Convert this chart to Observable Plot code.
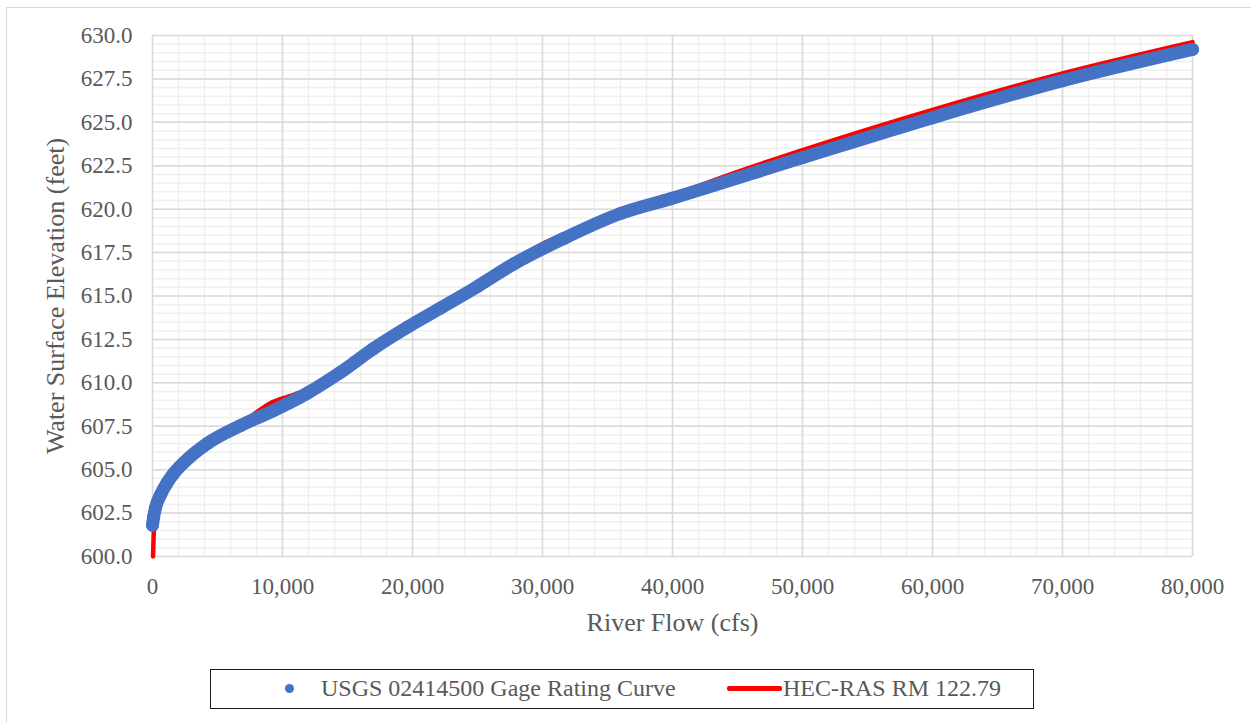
<!DOCTYPE html>
<html>
<head>
<meta charset="utf-8">
<script src="https://cdn.jsdelivr.net/npm/d3@7"></script>
<script src="https://cdn.jsdelivr.net/npm/@observablehq/plot@0.6"></script>
<style>
  html, body { margin: 0; padding: 0; background: #fff; overflow: hidden; }
  #frame { position: absolute; left: 6px; top: 7px; width: 1400px; height: 900px;
           border-left: 1.5px solid #d9d9d9; border-top: 1.5px solid #d9d9d9; }
  #chart { position: absolute; left: 0; top: 0; }
  #legend { position: absolute; left: 210px; top: 669px; width: 824px; height: 40px;
            border: 1.5px solid #1a1a1a; box-sizing: border-box; background: #fff;
            font-family: "Liberation Serif", "Times New Roman", serif; font-size: 24px; color: #595959; }
  .item { position: absolute; top: 0; height: 37px; line-height: 37px; white-space: nowrap; }
  .dot { position: absolute; width: 9px; height: 9px; border-radius: 50%; background: #4472C4; }
  .ln { position: absolute; width: 55px; height: 5px; background: #FF0000; border-radius: 2px; }
</style>
</head>
<body>
<div id="frame"></div>
<div id="chart"></div>
<div id="legend">
  <div class="dot" style="left:74px; top:14px;"></div>
  <div class="item" style="left:110px;">USGS 02414500 Gage Rating Curve</div>
  <div class="ln" style="left:516px; top:16px;"></div>
  <div class="item" style="left:572px;">HEC-RAS RM 122.79</div>
</div>
<script>
// USGS gage rating curve (blue markers)
const usgsFlow = [0, 80, 230, 615, 1130, 1600, 2400, 4200, 6800, 9300, 11900, 14450, 17000, 19600, 22150, 25000, 27800, 31600, 36000, 39850, 50000, 60000, 70000, 80000];
const usgsElev = [601.8, 602.25, 602.8, 603.55, 604.25, 604.75, 605.4, 606.5, 607.55, 608.4, 609.4, 610.6, 611.97, 613.2, 614.3, 615.55, 616.85, 618.3, 619.75, 620.6, 622.97, 625.27, 627.4, 629.2];

// HEC-RAS RM 122.79 (red line)
const hecFlow = [40, 80, 150, 300, 615, 1130, 1600, 2400, 4200, 6800, 8000, 9000, 10000, 11000, 12000, 13500, 15000, 17000, 19600, 22150, 25000, 28000, 30000, 32000, 36000, 40000, 45000, 50000, 60000, 70000, 80000];
const hecElev = [600.0, 601.0, 602.0, 602.9, 603.55, 604.25, 604.75, 605.4, 606.5, 607.6, 608.3, 608.8, 609.1, 609.35, 609.65, 610.35, 611.05, 612.0, 613.2, 614.3, 615.6, 617.1, 618.0, 618.65, 619.8, 620.8, 622.15, 623.4, 625.72, 627.82, 629.62];

// Axis ticks
const xTicks = [0, 10000, 20000, 30000, 40000, 50000, 60000, 70000, 80000];
const yTicks = [600, 602.5, 605, 607.5, 610, 612.5, 615, 617.5, 620, 622.5, 625, 627.5, 630];
const xMinor = d3.range(0, 80001, 2000);
const yMinor = d3.range(600, 630.01, 0.5);

const xTitle = "River Flow (cfs)";
const yTitle = "Water Surface Elevation (feet)";

const usgs = usgsFlow.map((f, i) => ({flow: f, elev: usgsElev[i]}));
const hec = hecFlow.map((f, i) => ({flow: f, elev: hecElev[i]}));

const grey = "#595959";
const chart = Plot.plot({
  width: 1251,
  height: 640,
  marginLeft: 152,
  marginRight: 59,
  marginTop: 35,
  marginBottom: 84,
  style: {fontFamily: "'Liberation Serif', 'Times New Roman', serif", fontSize: "23px", color: grey, background: "transparent", overflow: "visible"},
  x: {domain: [0, 80000]},
  y: {domain: [600, 630]},
  marks: [
    Plot.gridX(xMinor, {stroke: "#efefef", strokeOpacity: 1, strokeWidth: 1.5}),
    Plot.gridY(yMinor, {stroke: "#efefef", strokeOpacity: 1, strokeWidth: 1.5}),
    Plot.gridX(xTicks, {stroke: "#d9d9d9", strokeOpacity: 1, strokeWidth: 1.5}),
    Plot.gridY(yTicks, {stroke: "#d9d9d9", strokeOpacity: 1, strokeWidth: 1.5}),
    Plot.axisX(xTicks, {tickSize: 0, tickPadding: 21, tickFormat: d3.format(","), label: null, fontSize: 23, fill: grey}),
    Plot.axisY(yTicks, {tickSize: 0, tickPadding: 20, tickFormat: d => d.toFixed(1), label: null, fontSize: 23, fill: grey}),
    Plot.line(hec, {x: "flow", y: "elev", stroke: "#FF0000", strokeWidth: 4.5, curve: "monotone-x"}),
    Plot.line(usgs, {x: "flow", y: "elev", stroke: "#4472C4", strokeWidth: 13, strokeLinecap: "round", strokeLinejoin: "round", curve: "monotone-x"}),
    Plot.dot(usgs, {x: "flow", y: "elev", r: 6.5, fill: "#4472C4"}),
    Plot.text([xTitle], {text: d => d, frameAnchor: "bottom", lineAnchor: "middle", textAnchor: "middle", dy: 66, fontSize: 26, fill: grey}),
    Plot.text([yTitle], {text: d => d, frameAnchor: "left", lineAnchor: "middle", textAnchor: "middle", dx: -97, rotate: -90, fontSize: 26, fill: grey})
  ]
});
document.getElementById("chart").appendChild(chart);
</script>
</body>
</html>
